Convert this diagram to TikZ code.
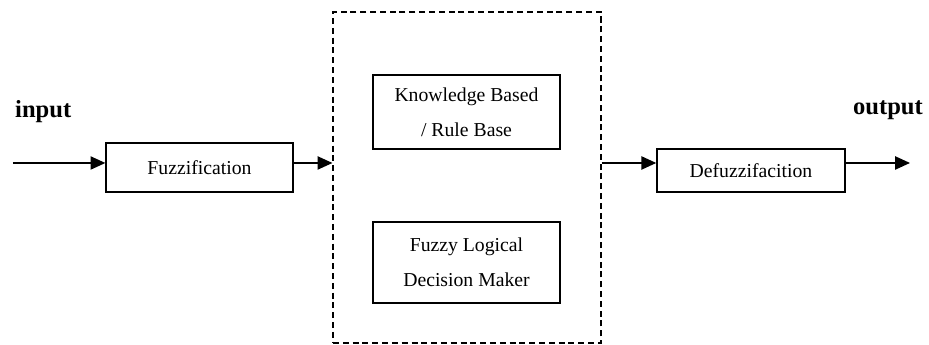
\documentclass[tikz,border=0pt]{standalone}
\usepackage{fontspec}
\setmainfont{Liberation Serif}
\usepackage{tikz}
\usetikzlibrary{arrows.meta, positioning, calc}

\begin{document}
\begin{tikzpicture}[
  block/.style={draw, line width=1.3pt, minimum width=6.23cm, text centered, align=center,
                font=\fontsize{18.7}{33}\selectfont, inner sep=0pt},
  flow/.style={-{Triangle[length=14pt, width=12.5pt]}, line width=1.3pt},
  label/.style={font=\fontsize{23.3}{28}\selectfont\bfseries, inner sep=0pt},
  group/.style={draw, line width=1.2pt, dash pattern=on 5.7pt off 3.6pt},
]
\useasboundingbox (0,0) rectangle (30.967,11.5);

% Fuzzifier
\node[block, minimum height=1.63cm] (fuzz) at (6.65, 5.917) {Fuzzification};

% Inference engine
\node[block, minimum height=2.47cm] (rules) at (15.55, 7.767) {Knowledge Based\\/ Rule Base};
\node[block, minimum height=2.7cm] (logic) at (15.55, 2.75) {Fuzzy Logical\\Decision Maker};
\node[group, minimum width=8.93cm, minimum height=11.03cm] (engine) at (15.567, 5.583) {};

% Defuzzifier
\node[block, minimum width=6.27cm, minimum height=1.43cm] (defuzz) at (25.033, 5.817) {Defuzzifacition};

% Labels
\node[label, anchor=base west] (inlabel) at (0.5, 7.59) {input};
\node[label, anchor=base east] (outlabel) at (30.767, 7.667) {output};

% Signal line
\coordinate (in) at (0.433, 6.067);
\coordinate (out) at (30.333, 6.067);

% Arrows
\draw[flow] (in) -- (in -| fuzz.west);
\draw[flow] (in -| fuzz.east) -- (in -| engine.west);
\draw[flow] (in -| engine.east) -- (in -| defuzz.west);
\draw[flow] (in -| defuzz.east) -- (out);

\end{tikzpicture}
\end{document}
